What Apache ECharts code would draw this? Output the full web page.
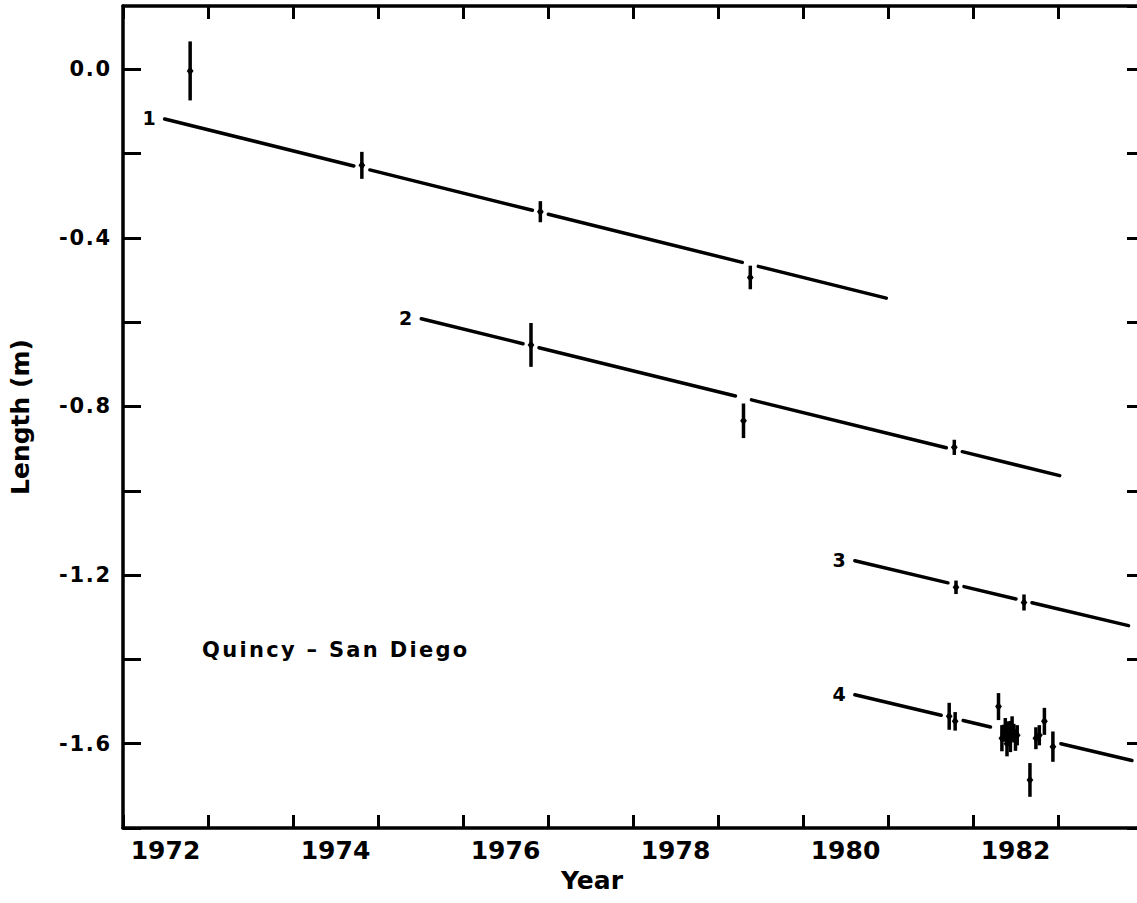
<!DOCTYPE html>
<html>
<head>
<meta charset="utf-8">
<script src="https://cdn.jsdelivr.net/npm/echarts@6/dist/echarts.min.js"></script>
<style>
html,body{margin:0;padding:0;background:#fff;}
#chart{width:1137px;height:903px;}
</style>
</head>
<body>
<div id="chart"></div>
<script>
// ---- tick labels ----
const yearCategories = ['1972','1973','1974','1975','1976','1977','1978','1979','1980','1981','1982','1983'];

// ---- fitted lines (baseline length trends) ----
const fitLineIds     = ['1', '2', '3', '4'];
const fitStartYear   = [1972.49, 1975.51, 1980.61, 1980.61];
const fitStartLength = [-0.118, -0.592, -1.166, -1.484];
const fitEndYear     = [1980.98, 1983.02, 1983.83, 1983.87];
const fitEndLength   = [-0.543, -0.964, -1.320, -1.640];

// ---- observations with error bars ----
const obsYear   = [1972.79,
                   1974.81, 1976.91, 1979.38,
                   1976.80, 1979.30, 1981.78,
                   1981.80, 1982.60,
                   1981.72, 1981.79, 1982.30,
                   1982.34, 1982.36, 1982.38, 1982.40, 1982.42, 1982.44, 1982.46, 1982.48, 1982.50, 1982.52,
                   1982.67, 1982.74, 1982.78, 1982.84, 1982.94];
const obsLength = [-0.004,
                   -0.228, -0.338, -0.494,
                   -0.654, -0.834, -0.897,
                   -1.229, -1.265,
                   -1.535, -1.547, -1.512,
                   -1.587, -1.575, -1.567, -1.600, -1.572, -1.583, -1.560, -1.575, -1.591, -1.580,
                   -1.686, -1.587, -1.580, -1.547, -1.607];
const obsError  = [0.070,
                   0.032, 0.025, 0.028,
                   0.052, 0.041, 0.018,
                   0.016, 0.019,
                   0.032, 0.022, 0.032,
                   0.031, 0.020, 0.028, 0.030, 0.025, 0.037, 0.025, 0.022, 0.026, 0.024,
                   0.040, 0.026, 0.024, 0.032, 0.036];
const obsFit    = [0,
                   1, 1, 1,
                   2, 2, 2,
                   3, 3,
                   4, 4, 4,
                   4, 4, 4, 4, 4, 4, 4, 4, 4, 4,
                   4, 4, 4, 4, 4];

const FONT = '"DejaVu Sans", "Liberation Sans", sans-serif';

const chart = echarts.init(document.getElementById('chart'), null, {renderer: 'svg'});

function renderFit(params, api) {
  const idx = api.value(4);
  const p0 = api.coord([api.value(0), api.value(1)]);
  const p1 = api.coord([api.value(2), api.value(3)]);
  const gapHalf = 8;
  const gaps = [];
  obsYear.forEach((yr, k) => {
    if (obsFit[k] === idx + 1) {
      const gx = api.coord([yr, 0])[0];
      gaps.push([gx - gapHalf, gx + gapHalf]);
    }
  });
  gaps.sort((a, b) => a[0] - b[0]);
  const merged = [];
  gaps.forEach(g => {
    if (merged.length && g[0] <= merged[merged.length - 1][1]) {
      merged[merged.length - 1][1] = Math.max(merged[merged.length - 1][1], g[1]);
    } else merged.push([g[0], g[1]]);
  });
  const yAt = x => p0[1] + (p1[1] - p0[1]) * (x - p0[0]) / (p1[0] - p0[0]);
  const segs = [];
  let cur = p0[0];
  merged.forEach(g => {
    if (g[0] > cur) segs.push([cur, Math.min(g[0], p1[0])]);
    cur = Math.max(cur, g[1]);
  });
  if (cur < p1[0]) segs.push([cur, p1[0]]);
  const children = segs.map(s => ({
    type: 'line',
    shape: {x1: s[0], y1: yAt(s[0]), x2: s[1], y2: yAt(s[1])},
    style: {stroke: '#000', lineWidth: 3.5, lineCap: 'round'}
  }));
  children.push({
    type: 'text',
    x: p0[0] - 9,
    y: p0[1] - 1,
    style: {text: fitLineIds[idx], align: 'right', verticalAlign: 'middle',
            fontFamily: FONT, fontWeight: 'bold', fontSize: 19, fill: '#000'}
  });
  return {type: 'group', children: children};
}

function renderObs(params, api) {
  const x = api.value(0), y = api.value(1), e = api.value(2);
  const top = api.coord([x, y + e]);
  const bot = api.coord([x, y - e]);
  const c = api.coord([x, y]);
  return {
    type: 'group',
    children: [
      {type: 'line', shape: {x1: top[0], y1: top[1], x2: bot[0], y2: bot[1]},
       style: {stroke: '#000', lineWidth: 3.5}},
      {type: 'polygon', shape: {points: [[c[0], c[1] - 4.5], [c[0] + 3.4, c[1]], [c[0], c[1] + 4.5], [c[0] - 3.4, c[1]]]},
       style: {fill: '#000'}}
    ]
  };
}

const axisLineStyle = {color: '#000', width: 3.5};
const tickStyle = {color: '#000', width: 3};

const option = {
  backgroundColor: '#fff',
  animation: false,
  grid: {left: 123, right: -6, top: 6, bottom: 75, containLabel: false, outerBoundsMode: 'none'},
  xAxis: [
    {type: 'value', min: 1972, max: 1984, show: false, axisLine: {onZero: false}},
    {type: 'category', data: yearCategories, position: 'bottom', boundaryGap: true,
     axisLine: {show: true, onZero: false, lineStyle: axisLineStyle},
     axisTick: {show: true, inside: true, length: 13, interval: 0, lineStyle: tickStyle},
     axisLabel: {interval: 1, color: '#000', fontFamily: FONT, fontWeight: 'bold', fontSize: 25, margin: 10},
     splitLine: {show: false}},
    {type: 'category', data: yearCategories, position: 'top', boundaryGap: true,
     axisLine: {show: true, onZero: false, lineStyle: axisLineStyle},
     axisTick: {show: true, inside: true, length: 13, interval: 0, lineStyle: tickStyle},
     axisLabel: {show: false}, splitLine: {show: false}}
  ],
  yAxis: [
    {type: 'value', min: -1.8, max: 0.15, interval: 0.2, position: 'left',
     name: 'Length (m)', nameLocation: 'middle', nameGap: 90,
     nameTextStyle: {color: '#000', fontFamily: FONT, fontWeight: 'bold', fontSize: 25},
     axisLine: {show: true, onZero: false, lineStyle: axisLineStyle},
     axisTick: {show: true, inside: true, length: 18, lineStyle: tickStyle},
     axisLabel: {color: '#000', fontFamily: FONT, fontWeight: 'bold', fontSize: 21, margin: 11,
       showMaxLabel: false,
       formatter: v => {
         const t = Math.round(v * 10);
         if (Math.abs(v * 10 - t) > 1e-6) return '';
         return (t % 4 === 0) ? v.toFixed(1) : '';
       }},
     splitLine: {show: false}},
    {type: 'value', min: -1.8, max: 0.15, interval: 0.2, position: 'right',
     axisLine: {show: true, onZero: false, lineStyle: axisLineStyle},
     axisTick: {show: true, inside: true, length: 16, lineStyle: tickStyle},
     axisLabel: {show: false}, splitLine: {show: false}}
  ],
  graphic: [
    {type: 'text', left: 202, top: 639,
     style: {text: 'Quincy – San Diego', fontFamily: FONT, fontWeight: 'bold', fontSize: 21, fill: '#000'}},
    {type: 'text', x: 592, y: 880,
     style: {text: 'Year', align: 'center', verticalAlign: 'middle', fontFamily: FONT, fontWeight: 'bold', fontSize: 25, fill: '#000'}}
  ],
  series: [
    {type: 'custom', name: 'fit', xAxisIndex: 0, yAxisIndex: 0, renderItem: renderFit, clip: false,
     encode: {x: [0, 2], y: [1, 3]},
     data: fitLineIds.map((id, i) => [fitStartYear[i], fitStartLength[i], fitEndYear[i], fitEndLength[i], i])},
    {type: 'custom', name: 'obs', xAxisIndex: 0, yAxisIndex: 0, renderItem: renderObs, clip: false,
     encode: {x: 0, y: 1},
     data: obsYear.map((yr, i) => [yr, obsLength[i], obsError[i]])}
  ]
};
chart.setOption(option);

// widen letter spacing of a few texts to match the reference typeface
document.querySelectorAll('#chart svg text').forEach(t => {
  const s = t.textContent;
  if (s === 'Quincy – San Diego') t.setAttribute('letter-spacing', '2.3');
  else if (/^-?\d\.\d$/.test(s)) { t.setAttribute('letter-spacing', '1.8'); }
});
</script>
</body>
</html>
